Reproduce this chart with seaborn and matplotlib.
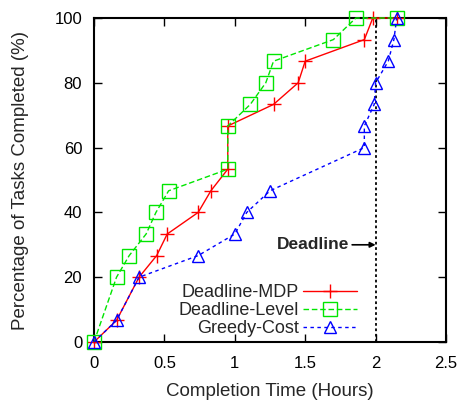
import matplotlib
matplotlib.use("Agg")
import matplotlib.pyplot as plt
import seaborn as sns
import pandas as pd

mdp_x = [0.0, 0.16, 0.32, 0.445, 0.52, 0.74, 0.83, 0.95, 0.95, 1.275, 1.45, 1.50, 1.92, 1.98, 2.15]
mdp_y = [0.0, 6.67, 20.0, 26.67, 33.33, 40.0, 46.67, 53.33, 66.67, 73.33, 80.0, 86.67, 93.33, 100.0, 100.0]

lvl_x = [0.0, 0.16, 0.25, 0.37, 0.44, 0.53, 0.95, 0.95, 1.11, 1.22, 1.275, 1.70, 1.86, 2.15]
lvl_y = [0.0, 20.0, 26.67, 33.33, 40.0, 46.67, 53.33, 66.67, 73.33, 80.0, 86.67, 93.33, 100.0, 100.0]

grd_x = [0.0, 0.16, 0.32, 0.74, 1.0, 1.085, 1.25, 1.92, 1.92, 1.99, 2.0, 2.09, 2.13, 2.15]
grd_y = [0.0, 6.67, 20.0, 26.67, 33.33, 40.0, 46.67, 60.0, 66.67, 73.33, 80.0, 86.67, 93.33, 100.0]

deadline = 2.0
x_ticks = [0, 0.5, 1, 1.5, 2, 2.5]
y_ticks = [0, 20, 40, 60, 80, 100]

sns.set_style("ticks")
plt.rcParams['font.family'] = ['Liberation Sans', 'DejaVu Sans']

fig = plt.figure(figsize=(4.61, 4.01), dpi=100)
ax = fig.add_axes([94/461, 1-342/401, (446-94)/461, (342-18)/401])

series = [
    ("Deadline-MDP", mdp_x, mdp_y, "#ff0000", "-", "+", 10, 1.0),
    ("Deadline-Level", lvl_x, lvl_y, "#00e600", (0, (4, 2)), "s", 10, 1.0),
    ("Greedy-Cost", grd_x, grd_y, "#0000ff", (0, (2.5, 2.5)), "^", 9, 1.0),
]
handles = []
for name, xs, ys, col, ls, mk, ms, lw in series:
    df = pd.DataFrame({"x": xs, "y": ys})
    sns.lineplot(data=df, x="x", y="y", ax=ax, sort=False, estimator=None,
                 color=col, linestyle=ls, linewidth=lw, marker=mk, markersize=ms,
                 markerfacecolor="none", markeredgecolor=col, markeredgewidth=1.0,
                 clip_on=False, zorder=3)
    handles.append(ax.lines[-1])

ax.axvline(deadline, color="black", linestyle=(0, (1.5, 1.5)), linewidth=1.3, zorder=2)
ax.annotate("Deadline", xy=(deadline, 30), xytext=(1.81, 30),
            fontsize=12.5, fontweight="bold", ha="right", va="center",
            arrowprops=dict(arrowstyle="-|>", color="black", lw=1.2, shrinkA=0, shrinkB=0,
                            mutation_scale=8))

ax.set_xlim(0, 2.5)
ax.set_ylim(0, 100)
ax.set_xticks(x_ticks)
ax.set_xticklabels(["0", "0.5", "1", "1.5", "2", "2.5"])
ax.set_yticks(y_ticks)
ax.tick_params(direction="in", top=True, right=True, length=6, width=1.0, labelsize=12, colors="black")
ax.tick_params(axis="x", pad=10)
ax.tick_params(axis="y", pad=8.5)
for s in ax.spines.values():
    s.set_linewidth(1.5)
    s.set_color("black")
ax.set_xlabel("Completion Time (Hours)", fontsize=13.5, labelpad=9)
ax.set_ylabel("Percentage of Tasks Completed (%)", fontsize=13.5, labelpad=18)

leg = ax.legend(handles, [s[0] for s in series], loc="lower right",
                bbox_to_anchor=(0.793, -0.035), frameon=False, fontsize=13,
                markerfirst=False, handlelength=3.0, labelspacing=0.05,
                handletextpad=0.2)
for t in leg.get_texts():
    t.set_ha("right")

fig.savefig("out.png", dpi=100)
